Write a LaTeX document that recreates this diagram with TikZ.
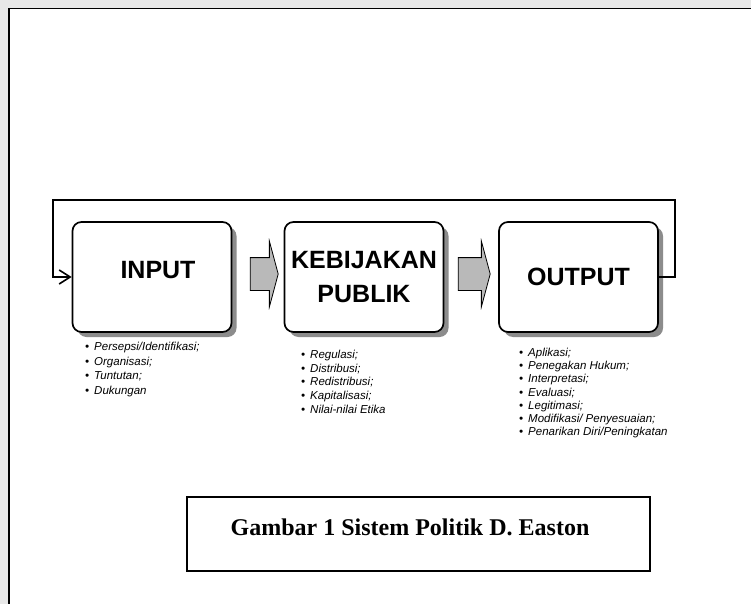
\documentclass[tikz,border=0pt]{standalone}
\usepackage{fontspec}
\setmainfont{Liberation Serif}
\setsansfont{Liberation Sans}
\usepackage{tikz}
\usetikzlibrary{arrows.meta,shadows,shapes.arrows}

\begin{document}
\begin{tikzpicture}[x=1pt,y=-1pt]

\tikzset{kotak/.style = {shape=rectangle,draw,rounded corners=9pt,line width=1.7pt,fill=white,minimum width=159pt,minimum height=110pt,inner sep=0pt,align=center,font=\sffamily\bfseries\fontsize{25}{34}\selectfont,drop shadow={shadow xshift=5pt,shadow yshift=-5pt,fill=gray!90,opacity=1}}}
\tikzset{panah/.style = {single arrow,draw,fill=gray!55,line width=0.8pt,minimum width=65pt,single arrow head extend=16.5pt,single arrow tip angle=150,inner xsep=0pt,inner ysep=16pt}}
\tikzset{daftar/.style = {align=left,anchor=north west,inner sep=0pt}}
\tikzset{edge/.style = {->,> = {Straight Barb[length=11pt,width=14pt,line width=1.6pt]},line width=1.8pt}}
\useasboundingbox (0,0) rectangle (751,604);

% halaman
\fill[white] (0,0) rectangle (751,604);
\fill[gray!18] (0,0) rectangle (751,8);
\fill[gray!18] (0,0) rectangle (8,604);
\draw[line width=1.5pt] (9,604) -- (9,8.5) -- (751,8.5);

% kotak
\node[kotak] (input) at  (152,277) {\hspace*{12pt}INPUT\rule[-14pt]{0pt}{14pt}};
\node[kotak] (kebijakan) at  (364,277) {KEBIJAKAN\\PUBLIK};
\node[kotak] (output) at  (578.5,277) {OUTPUT};

\node[panah,minimum height=28pt] (panah1) at (262,274) {};
\node[panah,minimum height=32pt] (panah2) at (472,274) {};

% daftar
\node[daftar,font=\sffamily\itshape\fontsize{11.5}{14.5}\selectfont] (daftarinput) at (85,342) {\textbullet\hspace{5pt}Persepsi/Identifikasi;\\\textbullet\hspace{5pt}Organisasi;\\\textbullet\hspace{5pt}Tuntutan;\\\textbullet\hspace{5pt}Dukungan};
\node[daftar,font=\sffamily\itshape\fontsize{11.5}{13.7}\selectfont] (daftarkebijakan) at (301,350) {\textbullet\hspace{5pt}Regulasi;\\\textbullet\hspace{5pt}Distribusi;\\\textbullet\hspace{5pt}Redistribusi;\\\textbullet\hspace{5pt}Kapitalisasi;\\\textbullet\hspace{5pt}Nilai-nilai Etika};
\node[daftar,font=\sffamily\itshape\fontsize{11.5}{13.2}\selectfont] (daftaroutput) at (519,348) {\textbullet\hspace{5pt}Aplikasi;\\\textbullet\hspace{5pt}Penegakan Hukum;\\\textbullet\hspace{5pt}Interpretasi;\\\textbullet\hspace{5pt}Evaluasi;\\\textbullet\hspace{5pt}Legitimasi;\\\textbullet\hspace{5pt}Modifikasi/ Penyesuaian;\\\textbullet\hspace{5pt}Penarikan Diri/Peningkatan};

% judul
\node[draw,line width=1.3pt,minimum width=463pt,minimum height=74pt] (bingkai) at (418.5,534) {};
\node[font=\bfseries\fontsize{24}{28}\selectfont] (judul) at (410,527) {Gambar 1 Sistem Politik D. Easton};

%edges
\coordinate (kananatas) at (675,200);
\coordinate (kiriatas) at (53,200);

\draw[edge] (output.east) -| (kananatas) -- (kiriatas) |- (input.west);
\end{tikzpicture}
\end{document}
